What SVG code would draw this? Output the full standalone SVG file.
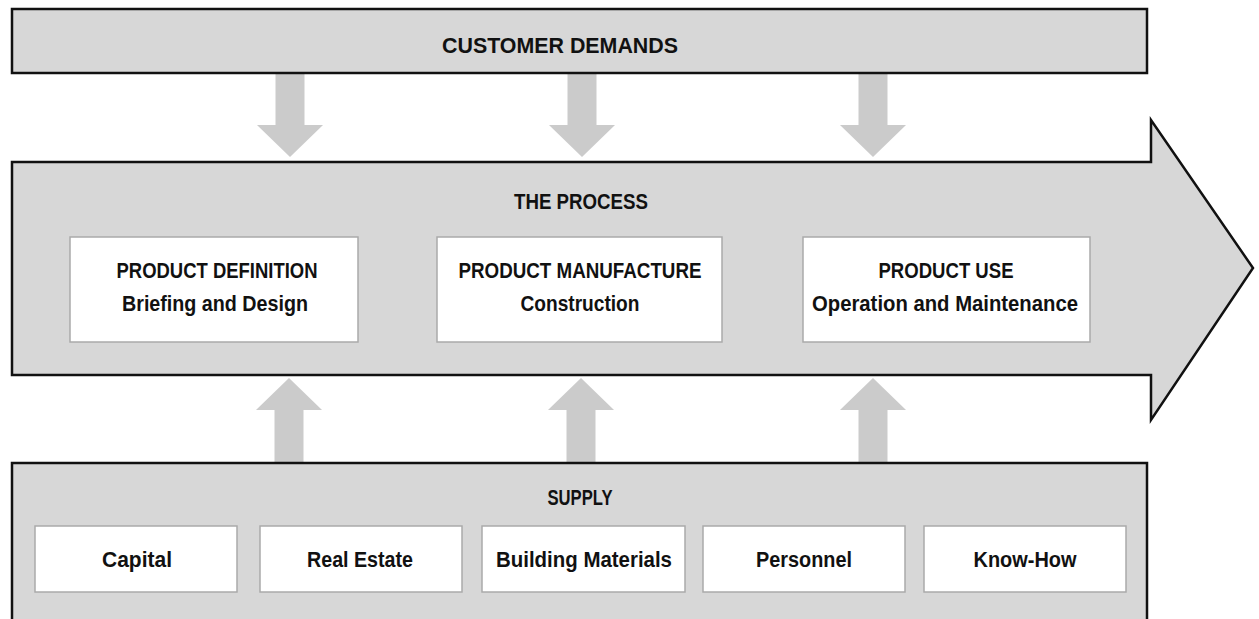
<svg xmlns="http://www.w3.org/2000/svg" width="1259" height="619" viewBox="0 0 1259 619">
<style>
.bar{fill:#d7d7d7;stroke:#111;stroke-width:2.5}
.box{fill:#fff;stroke:#aaa;stroke-width:1.5}
.arr{fill:#cbcbcb;stroke:none}
text{font-family:"Liberation Sans Narrow","Liberation Sans",Arial,sans-serif;font-weight:bold;fill:#111;text-anchor:middle}
.t{font-size:22px}
</style>
<rect width="1259" height="619" fill="#fff"/>
<g id="connectors">
<polygon class="arr" points="275.5,74 304.5,74 304.5,125 323,125 290,157 257,125 275.5,125"/>
<polygon class="arr" points="567.5,74 596.5,74 596.5,125 615,125 582,157 549,125 567.5,125"/>
<polygon class="arr" points="858.5,74 887.5,74 887.5,125 906,125 873,157 840,125 858.5,125"/>
<polygon class="arr" points="274.5,462 303.5,462 303.5,410 322,410 289,378 256,410 274.5,410"/>
<polygon class="arr" points="566.5,462 595.5,462 595.5,410 614,410 581,378 548,410 566.5,410"/>
<polygon class="arr" points="858.5,462 887.5,462 887.5,410 906,410 873,378 840,410 858.5,410"/>
</g>
<g id="customer-demands">
<rect class="bar" x="12" y="9" width="1135" height="64"/>
<text class="t" x="560" y="53" textLength="236" lengthAdjust="spacingAndGlyphs">CUSTOMER DEMANDS</text>
</g>
<g id="the-process">
<polygon class="bar" points="12,162 1151,162 1151,120 1253,268 1151,420 1151,375 12,375"/>
<text class="t" x="581" y="209" textLength="134" lengthAdjust="spacingAndGlyphs">THE PROCESS</text>
</g>
<g id="product-definition">
<rect class="box" x="70" y="237" width="288" height="105"/>
<text class="t" x="217" y="278" textLength="201" lengthAdjust="spacingAndGlyphs">PRODUCT DEFINITION</text>
<text class="t" x="215" y="311" textLength="186" lengthAdjust="spacingAndGlyphs">Briefing and Design</text>
</g>
<g id="product-manufacture">
<rect class="box" x="437" y="237" width="285" height="105"/>
<text class="t" x="580" y="278" textLength="243" lengthAdjust="spacingAndGlyphs">PRODUCT MANUFACTURE</text>
<text class="t" x="580" y="311" textLength="119" lengthAdjust="spacingAndGlyphs">Construction</text>
</g>
<g id="product-use">
<rect class="box" x="803" y="237" width="287" height="105"/>
<text class="t" x="946" y="278" textLength="135" lengthAdjust="spacingAndGlyphs">PRODUCT USE</text>
<text class="t" x="945" y="311" textLength="266" lengthAdjust="spacingAndGlyphs">Operation and Maintenance</text>
</g>
<g id="supply">
<rect class="bar" x="12" y="463" width="1135" height="170"/>
<text class="t" x="580" y="505" textLength="65" lengthAdjust="spacingAndGlyphs">SUPPLY</text>
</g>
<g id="capital">
<rect class="box" x="35" y="526" width="202" height="66"/>
<text class="t" x="137" y="567" textLength="70" lengthAdjust="spacingAndGlyphs">Capital</text>
</g>
<g id="real-estate">
<rect class="box" x="260" y="526" width="202" height="66"/>
<text class="t" x="360" y="567" textLength="106" lengthAdjust="spacingAndGlyphs">Real Estate</text>
</g>
<g id="building-materials">
<rect class="box" x="482" y="526" width="203" height="66"/>
<text class="t" x="584" y="567" textLength="176" lengthAdjust="spacingAndGlyphs">Building Materials</text>
</g>
<g id="personnel">
<rect class="box" x="703" y="526" width="202" height="66"/>
<text class="t" x="804" y="567" textLength="96" lengthAdjust="spacingAndGlyphs">Personnel</text>
</g>
<g id="know-how">
<rect class="box" x="924" y="526" width="202" height="66"/>
<text class="t" x="1025" y="567" textLength="103" lengthAdjust="spacingAndGlyphs">Know-How</text>
</g>
</svg>
